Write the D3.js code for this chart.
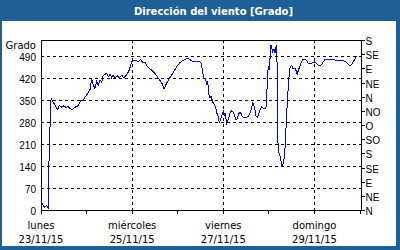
<!DOCTYPE html>
<html>
<head>
<meta charset="utf-8">
<script src="https://cdn.jsdelivr.net/npm/d3@7"></script>
<style>
	body { margin: 0; background: #fff; }
	svg { display: block; font-family: "DejaVu Sans", Verdana, sans-serif; font-size: 10px; }
	.grid line { stroke: #000; stroke-dasharray: 3,3; shape-rendering: crispEdges; }
	.grid .domain { display: none; }
</style>
</head>
<body>
<svg id="chart" width="400" height="250"></svg>
<script>
// hours since 23/11/15 00:00 and wind direction in degrees
var hours = [0, 0.9, 2.0, 3.0, 3.9, 4.1, 4.4, 4.8, 5.3, 6.1, 7.3, 8.8, 9.6, 10.9, 11.8, 13.2, 14.4, 15.3, 16.4, 17.9,
	19.6, 20.9, 22.3, 23.7, 24.9, 25.8, 26.7, 27.5, 28.4, 29.3, 30.2, 31.1, 32.0, 32.8, 33.7, 34.6, 35.5, 36.4, 37.2, 38.0,
	38.9, 40.2, 41.2, 42.5, 43.3, 44.3, 45.2, 46.5, 47.7, 48.9, 50.4, 51.2, 52.5, 53.6, 54.8, 55.7, 57.4, 59.1, 60.5, 61.8,
	63.6, 64.8, 66.2, 68.0, 69.6, 71.4, 73.2, 74.9, 76.7, 78.1, 79.3, 81.1, 82.7, 83.7, 84.3, 85.2, 85.5, 86.4, 86.9, 87.4,
	87.8, 88.1, 88.7, 89.6, 90.4, 91.2, 92.1, 92.8, 93.3, 93.9, 94.6, 95.2, 96.0, 96.5, 96.9, 97.8, 98.7, 99.6, 100.4, 101.2,
	102.1, 102.7, 103.3, 104.4, 105.2, 105.7, 106.5, 107.4, 108.3, 109.2, 110.1, 110.9, 111.4, 112.1, 112.7, 113.2, 114.1, 114.4, 115.3, 116.2,
	117.1, 118.0, 118.5, 118.9, 119.2, 119.6, 119.9, 120.3, 120.6, 121.0, 121.4, 122.0, 122.7, 123.2, 123.9, 124.4, 124.6, 124.9, 125.5, 126.2,
	126.9, 127.6, 128.3, 129.0, 129.7, 130.5, 131.2, 132.0, 132.8, 133.7, 134.6, 134.9, 135.5, 136.4, 137.3, 138.1, 139.0, 139.9, 140.8, 142.1,
	143.3, 144.2, 145.1, 146.0, 146.9, 147.8, 148.7, 149.6, 151.3, 153.0, 154.8, 156.5, 158.3, 159.6, 160.6, 161.9, 162.8, 163.6, 164.4, 165.3,
	166.2, 166.5];
var grados = [32, 18, 10, 17, 4, 88, 260, 265, 357, 348, 335, 320, 335, 328, 332, 328, 330, 324, 319, 328,
	333, 348, 352, 364, 375, 384, 420, 399, 388, 409, 398, 414, 408, 430, 432, 436, 425, 433, 422, 430,
	422, 428, 422, 430, 422, 425, 432, 446, 473, 478, 475, 473, 479, 470, 470, 460, 450, 441, 432, 420,
	405, 387, 405, 423, 437, 457, 470, 477, 483, 481, 475, 472, 472, 472, 468, 441, 420, 420, 410, 398,
	410, 385, 358, 362, 345, 338, 325, 305, 298, 280, 290, 300, 315, 300, 308, 278, 290, 312, 316, 312,
	298, 287, 292, 310, 310, 302, 296, 296, 296, 300, 310, 325, 342, 335, 318, 300, 296, 305, 318, 330,
	325, 322, 330, 365, 420, 450, 458, 445, 485, 526, 520, 505, 512, 500, 525, 455, 275, 185, 182, 165,
	140, 150, 175, 260, 345, 420, 457, 460, 450, 452, 441, 432, 445, 460, 474, 481, 481, 476, 467, 467,
	470, 472, 467, 462, 460, 463, 473, 481, 480, 480, 478, 478, 478, 475, 472, 464, 460, 464, 473, 481,
	490, 490];

var dayTicks = [0, 24, 48, 72, 96, 120, 144, 168];
var labelHours = [0, 48, 96, 144];
var dayNames = ['lunes', 'miércoles', 'viernes', 'domingo'];
var dayDates = ['23/11/15', '25/11/15', '27/11/15', '29/11/15'];
var gradoTicks = [0, 70, 140, 210, 280, 350, 420, 490];
var rumboTicks = [0, 45, 90, 135, 180, 225, 270, 315, 360, 405, 450, 495, 540];
var rumboLabels = ['N', 'NE', 'E', 'SE', 'S', 'SO', 'O', 'NO', 'N', 'NE', 'E', 'SE', 'S'];
var titulo = 'Dirección del viento [Grado]';
var unidad = 'Grado';

var svg = d3.select('#chart'),
	W = +svg.attr('width'), H = +svg.attr('height'),
	plotL = 41, plotR = 361, plotT = 40.5, plotB = 210.5;

// panel: blue frame + title bar
svg.append('rect').attr('width', W).attr('height', H).attr('fill', '#1e5f98');
svg.append('rect').attr('x', 2).attr('y', 21).attr('width', W - 6).attr('height', H - 25).attr('fill', '#fff');
svg.append('text')
	.attr('x', 213.5).attr('y', 14.5)
	.attr('text-anchor', 'middle')
	.attr('fill', '#fff')
	.attr('font-weight', 'bold')
	.text(titulo);

var x = d3.scaleLinear().domain([0, 168.5]).range([plotL, plotR]),
	y = d3.scaleLinear().domain([0, 540]).range([plotB, plotT]);

var crisp = function(v) { return Math.round(v - 0.5) + 0.5; };

// horizontal grid
svg.append('g')
	.attr('class', 'grid')
	.attr('transform', 'translate(' + plotL + ',0)')
	.call(d3.axisLeft(y).tickValues(gradoTicks.slice(1)).tickSize(-(plotR - plotL)).tickFormat(''))
	.selectAll('.tick').attr('transform', function(d) { return 'translate(0,' + crisp(y(d)) + ')'; });

// vertical grid
svg.append('g')
	.attr('class', 'grid')
	.attr('transform', 'translate(0,' + plotB + ')')
	.call(d3.axisBottom(x).tickValues(labelHours.slice(1)).tickSize(-(plotB - plotT)).tickFormat(''))
	.selectAll('.tick').attr('transform', function(d) { return 'translate(' + crisp(x(d)) + ',0)'; });

// left labels
var gl = svg.append('g')
	.attr('transform', 'translate(' + plotL + ',0)')
	.call(d3.axisLeft(y).tickValues(gradoTicks).tickSize(0).tickPadding(5));
gl.select('.domain').remove();
gl.selectAll('text').attr('font-family', null).attr('font-size', null).attr('fill', '#000').attr('dy', '0.4em');

svg.append('text').attr('x', 36).attr('y', 49).attr('text-anchor', 'end').text(unidad);

// right compass axis
var gr = svg.append('g')
	.attr('transform', 'translate(' + (plotR + 0.5) + ',0)')
	.call(d3.axisRight(y).tickValues(rumboTicks).tickSize(3).tickPadding(1)
		.tickFormat(function(d, i) { return rumboLabels[i]; }));
gr.select('.domain').remove();
gr.selectAll('.tick').attr('transform', function(d) { return 'translate(0,' + crisp(y(d)) + ')'; });
gr.selectAll('line').attr('stroke', '#000').attr('shape-rendering', 'crispEdges');
gr.selectAll('text').attr('font-family', null).attr('font-size', null).attr('fill', '#000').attr('dy', '0.42em');

// bottom day ticks
var gb = svg.append('g')
	.attr('transform', 'translate(0,' + plotB + ')')
	.call(d3.axisBottom(x).tickValues(dayTicks).tickSize(3).tickFormat(''));
gb.select('.domain').remove();
gb.selectAll('.tick').attr('transform', function(d) { return 'translate(' + crisp(x(d)) + ',0)'; });
gb.selectAll('line').attr('stroke', '#000').attr('shape-rendering', 'crispEdges');

// bottom day labels
var lb = svg.append('g').selectAll('g')
	.data(labelHours)
	.enter().append('g')
	.attr('transform', function(d) { return 'translate(' + x(d) + ',0)'; });
lb.append('text').attr('y', 229).attr('text-anchor', 'middle').text(function(d, i) { return dayNames[i]; });
lb.append('text').attr('y', 243).attr('text-anchor', 'middle').text(function(d, i) { return dayDates[i]; });

// plot frame
svg.append('rect')
	.attr('x', plotL + 0.5).attr('y', plotT)
	.attr('width', plotR - plotL).attr('height', plotB - plotT)
	.attr('fill', 'none').attr('stroke', '#000').attr('shape-rendering', 'crispEdges');

// wind direction line (aliased, like the original)
var data = hours.map(function(h, i) { return {h: h, v: grados[i]}; });
svg.append('path')
	.datum(data)
	.attr('fill', 'none')
	.attr('stroke', '#0000ff')
	.attr('stroke-width', 1)
	.attr('shape-rendering', 'crispEdges')
	.attr('d', d3.line()
		.x(function(d) { return x(d.h); })
		.y(function(d) { return y(d.v); }));
</script>
</body>
</html>
